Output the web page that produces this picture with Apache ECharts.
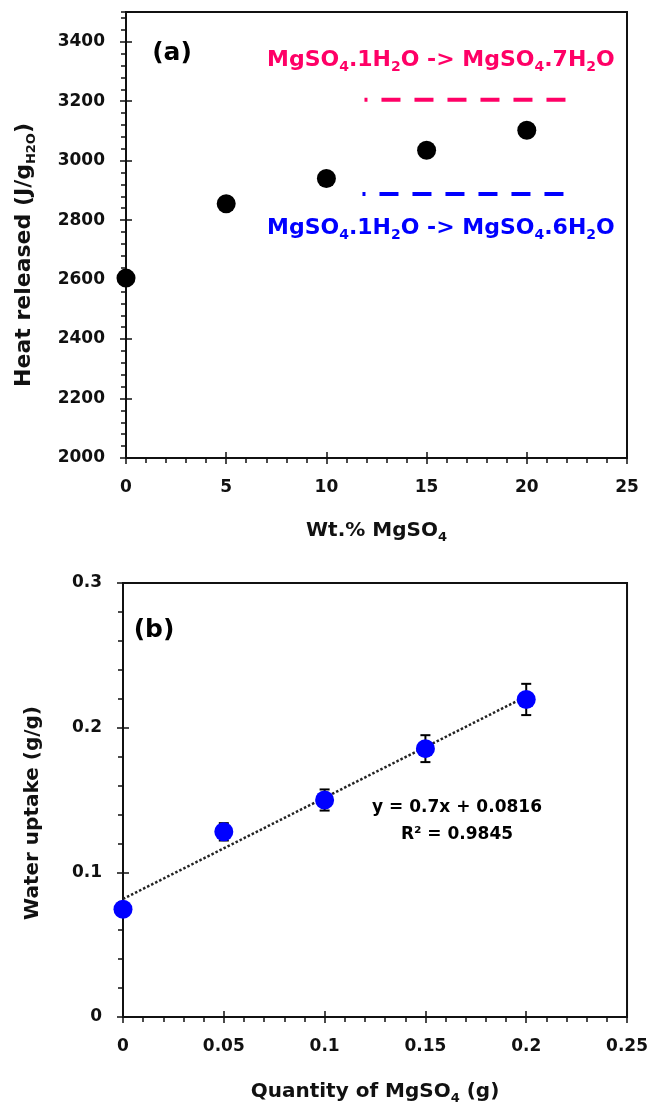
<!DOCTYPE html>
<html>
<head>
<meta charset="utf-8">
<script src="https://cdn.jsdelivr.net/npm/echarts@6/dist/echarts.min.js"></script>
<style>
html,body{margin:0;padding:0;background:#fff;}
#chart{width:651px;height:1106px;}
</style>
</head>
<body>
<div id="chart"></div>
<script>
// ---------- data: panel (a) ----------
const wtPct = [0, 5, 10, 15, 20];
const heatReleased = [2605, 2855, 2940, 3035, 3102];
const hepta7X = [11.9, 22.0];
const hepta7Y = [3205, 3205];
const hexa6X = [11.8, 21.9];
const hexa6Y = [2888, 2888];
const axisAX = [0, 25, 5];        // min, max, interval
const axisAY = [2000, 3500, 200]; // min, max, interval
const axisAYMinor = 40;

// ---------- data: panel (b) ----------
const qtyMgSO4 = [0, 0.05, 0.1, 0.15, 0.2];
const waterUptake = [0.0745, 0.128, 0.150, 0.1855, 0.2195];
const uptakeErr = [0.003, 0.006, 0.0073, 0.0093, 0.0108];
const trendX = [0, 0.2];
const trendY = [0.0816, 0.2216];
const axisBX = [0, 0.25, 0.05];
const axisBY = [0, 0.3, 0.1];

const FONT = 'DejaVu Sans';
const INK = '#111';
const PINK = '#FF0066';
const BLUE = '#0000FF';

const labelStyle = {fontFamily: FONT, fontWeight: 'bold', fontSize: 17, color: INK, formatter: v => String(+v.toFixed(4))};

function mainAxis(grid, r, pos, extra) {
  return Object.assign({
    type: 'value', gridIndex: grid, position: pos,
    min: r[0], max: r[1], interval: r[2],
    axisLine: {show: true, onZero: false, lineStyle: {color: INK, width: 2}},
    axisTick: {show: true, inside: false, length: 6, lineStyle: {color: INK, width: 1.5}},
    axisLabel: Object.assign({margin: 21}, labelStyle),
    splitLine: {show: false}
  }, extra || {});
}
function insideTickAxis(grid, r, pos) {
  return {
    type: 'value', gridIndex: grid, position: pos,
    min: r[0], max: r[1], interval: r[2],
    axisLine: {show: false, onZero: false},
    axisTick: {show: true, inside: true, length: 6, lineStyle: {color: INK, width: 1.5}},
    axisLabel: {show: false},
    splitLine: {show: false}
  };
}

const subRich = {
  s: {fontFamily: FONT, fontWeight: 'bold', fontSize: 13, lineHeight: 13, verticalAlign: 'bottom'}
};

const option = {
  animation: false,
  backgroundColor: '#fff',
  grid: [
    {left: 126, right: 24, top: 12, bottom: 648, show: true, borderColor: INK, borderWidth: 2, backgroundColor: 'transparent'},
    {left: 123, right: 21, top: 583, bottom: 85, show: true, borderColor: INK, borderWidth: 2, backgroundColor: 'transparent'}
  ],
  xAxis: [
    mainAxis(0, axisAX, 'bottom', {
      minorTick: {show: true, splitNumber: 5, length: 5, lineStyle: {color: INK, width: 1.5}},
      name: 'Wt.% MgSO{s|4}', nameLocation: 'middle', nameGap: 60,
      nameTextStyle: {fontFamily: FONT, fontWeight: 'bold', fontSize: 20, color: INK, lineHeight: 26, rich: subRich}
    }),
    insideTickAxis(0, axisAX, 'bottom'),
    mainAxis(1, axisBX, 'bottom', {
      minorTick: {show: true, splitNumber: 5, length: 5, lineStyle: {color: INK, width: 1.5}},
      name: 'Quantity of MgSO{s|4} (g)', nameLocation: 'middle', nameGap: 62,
      nameTextStyle: {fontFamily: FONT, fontWeight: 'bold', fontSize: 20, color: INK, lineHeight: 26, rich: subRich}
    }),
    insideTickAxis(1, axisBX, 'bottom')
  ],
  yAxis: [
    mainAxis(0, axisAY, 'left', {
      axisLabel: Object.assign({margin: 21, showMaxLabel: false}, labelStyle),
      name: 'Heat released (J/g{s|H2O})', nameLocation: 'middle', nameGap: 88,
      nameTextStyle: {fontFamily: FONT, fontWeight: 'bold', fontSize: 22, color: INK, lineHeight: 28, padding: [0, 40, 0, 0],
        rich: {s: {fontFamily: FONT, fontWeight: 'bold', fontSize: 13, lineHeight: 13, verticalAlign: 'bottom'}}}
    }),
    insideTickAxis(0, axisAY, 'left'),
    {
      type: 'value', gridIndex: 0, position: 'left',
      min: axisAY[0], max: axisAY[1], interval: axisAYMinor,
      axisLine: {show: false, onZero: false},
      axisTick: {show: true, inside: false, length: 5, lineStyle: {color: INK, width: 1.5}},
      axisLabel: {show: false}, splitLine: {show: false}
    },
    mainAxis(1, axisBY, 'left', {
      minorTick: {show: true, splitNumber: 5, length: 5, lineStyle: {color: INK, width: 1.5}},
      name: 'Water uptake (g/g)', nameLocation: 'middle', nameGap: 80,
      nameTextStyle: {fontFamily: FONT, fontWeight: 'bold', fontSize: 20, color: INK, padding: [0, 26, 0, 0]}
    }),
    insideTickAxis(1, axisBY, 'left')
  ],
  series: [
    {
      type: 'scatter', xAxisIndex: 0, yAxisIndex: 0, clip: false,
      symbol: 'circle', symbolSize: 19, itemStyle: {color: '#000', opacity: 1},
      data: wtPct.map((x, i) => [x, heatReleased[i]]), z: 5
    },
    {
      type: 'line', xAxisIndex: 0, yAxisIndex: 0, symbol: 'none',
      lineStyle: {color: PINK, width: 4, type: [19, 14], dashOffset: 16, cap: 'butt'},
      data: hepta7X.map((x, i) => [x, hepta7Y[i]])
    },
    {
      type: 'line', xAxisIndex: 0, yAxisIndex: 0, symbol: 'none',
      lineStyle: {color: BLUE, width: 4, type: [19, 14], dashOffset: 16, cap: 'butt'},
      data: hexa6X.map((x, i) => [x, hexa6Y[i]])
    },
    {
      type: 'line', xAxisIndex: 2, yAxisIndex: 3, symbol: 'none',
      lineStyle: {color: '#222', width: 2.5, type: [2.5, 2]},
      data: trendX.map((x, i) => [x, trendY[i]]), z: 3
    },
    {
      type: 'custom', xAxisIndex: 2, yAxisIndex: 3, z: 4,
      data: qtyMgSO4.map((x, i) => [x, waterUptake[i] - uptakeErr[i], waterUptake[i] + uptakeErr[i]]),
      renderItem: function (params, api) {
        const lo = api.coord([api.value(0), api.value(1)]);
        const hi = api.coord([api.value(0), api.value(2)]);
        const hw = 5;
        const st = {stroke: '#000', lineWidth: 2};
        return {type: 'group', children: [
          {type: 'line', shape: {x1: lo[0], y1: lo[1], x2: hi[0], y2: hi[1]}, style: st},
          {type: 'line', shape: {x1: lo[0] - hw, y1: lo[1], x2: lo[0] + hw, y2: lo[1]}, style: st},
          {type: 'line', shape: {x1: hi[0] - hw, y1: hi[1], x2: hi[0] + hw, y2: hi[1]}, style: st}
        ]};
      }
    },
    {
      type: 'scatter', xAxisIndex: 2, yAxisIndex: 3, clip: false,
      symbol: 'circle', symbolSize: 19, itemStyle: {color: BLUE, opacity: 1},
      data: qtyMgSO4.map((x, i) => [x, waterUptake[i]]), z: 5
    }
  ],
  graphic: [
    {type: 'text', x: 172, y: 53, z: 10, style: {text: '(a)', align: 'center', verticalAlign: 'middle', font: 'bold 25px "DejaVu Sans"', fill: '#000'}},
    {type: 'text', x: 154, y: 630, z: 10, style: {text: '(b)', align: 'center', verticalAlign: 'middle', font: 'bold 25px "DejaVu Sans"', fill: '#000'}},
    {type: 'text', x: 267, y: 60, z: 10, style: {
      text: 'MgSO{s|4}.1H{s|2}O -> MgSO{s|4}.7H{s|2}O', verticalAlign: 'middle',
      font: 'bold 22px "DejaVu Sans"', fill: PINK, lineHeight: 28,
      rich: {s: {fontFamily: FONT, fontWeight: 'bold', fontSize: 14, lineHeight: 14, verticalAlign: 'bottom', fill: PINK}}
    }},
    {type: 'text', x: 267, y: 228, z: 10, style: {
      text: 'MgSO{s|4}.1H{s|2}O -> MgSO{s|4}.6H{s|2}O', verticalAlign: 'middle',
      font: 'bold 22px "DejaVu Sans"', fill: BLUE, lineHeight: 28,
      rich: {s: {fontFamily: FONT, fontWeight: 'bold', fontSize: 14, lineHeight: 14, verticalAlign: 'bottom', fill: BLUE}}
    }},
    {type: 'text', x: 457, y: 808, z: 10, style: {text: 'y = 0.7x + 0.0816', align: 'center', verticalAlign: 'middle', font: 'bold 17px "DejaVu Sans"', fill: '#000'}},
    {type: 'text', x: 457, y: 835, z: 10, style: {text: 'R² = 0.9845', align: 'center', verticalAlign: 'middle', font: 'bold 17px "DejaVu Sans"', fill: '#000'}}
  ]
};

const chart = echarts.init(document.getElementById('chart'), null, {renderer: 'canvas'});
chart.setOption(option);
</script>
</body>
</html>
